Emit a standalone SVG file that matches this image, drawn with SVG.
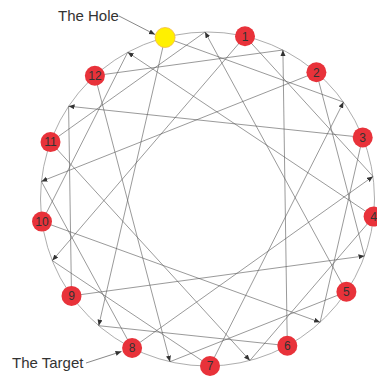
<svg xmlns="http://www.w3.org/2000/svg" width="377" height="376" viewBox="0 0 377 376">
<style>
.rim{fill:none;stroke:#8a8a8a;stroke-width:0.7}
.ch{fill:none;stroke:#555;stroke-width:0.6}
.ar{marker-end:url(#ah)}
.lb{fill:none;stroke:#555;stroke-width:0.7;marker-end:url(#ah)}
.n{fill:#e8323a}
.h{fill:#fff000;stroke:#f2b84a;stroke-width:0.8}
.t{font-family:"Liberation Sans",Arial,sans-serif;font-size:12px;fill:#333;text-anchor:middle}
.lab{font-family:"Liberation Sans",Arial,sans-serif;font-size:15px;fill:#333}
</style>
<defs>
<marker id="ah" markerUnits="userSpaceOnUse" markerWidth="8" markerHeight="6" refX="6" refY="2.5" orient="auto">
<path d="M0,0 L6,2.5 L0,5 z" fill="#333"/>
</marker>
</defs>
<circle class="rim" cx="207.5" cy="199" r="167"/>
<g id="connectors">
<line class="ch" x1="165.1" y1="37.5" x2="343.5" y2="102.1"/>
<line class="ch ar" x1="165.1" y1="37.5" x2="98.7" y2="325.7"/>
<line class="ch" x1="245.0" y1="36.3" x2="373.0" y2="176.4"/>
<line class="ch ar" x1="245.0" y1="36.3" x2="52.3" y2="260.6"/>
<line class="ch" x1="316.4" y1="72.3" x2="364.5" y2="255.9"/>
<line class="ch ar" x1="316.4" y1="72.3" x2="41.4" y2="181.4"/>
<line class="ch" x1="362.7" y1="137.4" x2="320.1" y2="322.3"/>
<line class="ch ar" x1="362.7" y1="137.4" x2="68.6" y2="106.2"/>
<line class="ch" x1="373.6" y1="216.6" x2="249.9" y2="360.5"/>
<line class="ch ar" x1="373.6" y1="216.6" x2="127.7" y2="52.3"/>
<line class="ch" x1="346.4" y1="291.8" x2="170.0" y2="361.7"/>
<line class="ch ar" x1="346.4" y1="291.8" x2="205.0" y2="32.0"/>
<line class="ch" x1="287.3" y1="345.7" x2="98.7" y2="325.7"/>
<line class="ch ar" x1="287.3" y1="345.7" x2="282.9" y2="50.0"/>
<line class="ch" x1="210.0" y1="366.0" x2="52.3" y2="260.6"/>
<line class="ch ar" x1="210.0" y1="366.0" x2="343.5" y2="102.1"/>
<line class="ch" x1="132.1" y1="348.0" x2="41.4" y2="181.4"/>
<line class="ch ar" x1="132.1" y1="348.0" x2="373.0" y2="176.4"/>
<line class="ch" x1="71.5" y1="295.9" x2="68.6" y2="106.2"/>
<line class="ch ar" x1="71.5" y1="295.9" x2="364.5" y2="255.9"/>
<line class="ch" x1="42.0" y1="221.6" x2="127.7" y2="52.3"/>
<line class="ch ar" x1="42.0" y1="221.6" x2="320.1" y2="322.3"/>
<line class="ch" x1="50.5" y1="142.1" x2="205.0" y2="32.0"/>
<line class="ch ar" x1="50.5" y1="142.1" x2="249.9" y2="360.5"/>
<line class="ch" x1="94.9" y1="75.7" x2="282.9" y2="50.0"/>
<line class="ch ar" x1="94.9" y1="75.7" x2="170.0" y2="361.7"/>
<line class="lb" x1="119" y1="16" x2="155" y2="34.5"/>
<line class="lb" x1="86" y1="363" x2="121.5" y2="351.5"/>
</g>
<g id="hole"><circle class="h" cx="165.1" cy="37.5" r="10"/></g>
<g id="n1"><circle class="n" cx="245.0" cy="36.3" r="10"/><text class="t" x="245.0" y="40.6">1</text></g>
<g id="n2"><circle class="n" cx="316.4" cy="72.3" r="10"/><text class="t" x="316.4" y="76.6">2</text></g>
<g id="n3"><circle class="n" cx="362.7" cy="137.4" r="10"/><text class="t" x="362.7" y="141.7">3</text></g>
<g id="n4"><circle class="n" cx="373.6" cy="216.6" r="10"/><text class="t" x="373.6" y="220.9">4</text></g>
<g id="n5"><circle class="n" cx="346.4" cy="291.8" r="10"/><text class="t" x="346.4" y="296.1">5</text></g>
<g id="n6"><circle class="n" cx="287.3" cy="345.7" r="10"/><text class="t" x="287.3" y="350.0">6</text></g>
<g id="n7"><circle class="n" cx="210.0" cy="366.0" r="10"/><text class="t" x="210.0" y="370.3">7</text></g>
<g id="n8"><circle class="n" cx="132.1" cy="348.0" r="10"/><text class="t" x="132.1" y="352.3">8</text></g>
<g id="n9"><circle class="n" cx="71.5" cy="295.9" r="10"/><text class="t" x="71.5" y="300.2">9</text></g>
<g id="n10"><circle class="n" cx="42.0" cy="221.6" r="10"/><text class="t" x="42.0" y="225.9">10</text></g>
<g id="n11"><circle class="n" cx="50.5" cy="142.1" r="10"/><text class="t" x="50.5" y="146.4">11</text></g>
<g id="n12"><circle class="n" cx="94.9" cy="75.7" r="10"/><text class="t" x="94.9" y="80.0">12</text></g>
<g id="labels">
<text class="lab" x="58" y="21">The Hole</text>
<text class="lab" x="12" y="368">The Target</text>
</g>
</svg>
